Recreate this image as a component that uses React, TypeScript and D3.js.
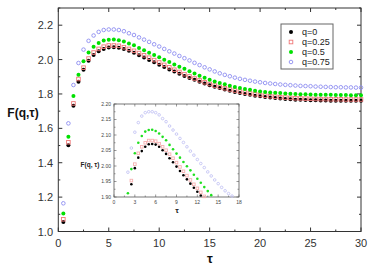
import React from "react";
import * as d3 from "d3";

const tau: number[] = Array.from({ length: 60 }, (_, i) => (i + 1) * 0.5);

const q0: number[] = [
  1.055, 1.501, 1.731, 1.871, 1.941, 1.993, 2.027, 2.048, 2.062, 2.07,
  2.071, 2.069, 2.062, 2.051, 2.039, 2.025, 2.012, 1.998, 1.984, 1.97,
  1.957, 1.943, 1.93, 1.917, 1.905, 1.893, 1.882, 1.871, 1.861, 1.851,
  1.842, 1.834, 1.826, 1.819, 1.812, 1.806, 1.8, 1.795, 1.79, 1.786,
  1.782, 1.779, 1.776, 1.773, 1.771, 1.769, 1.767, 1.766, 1.765, 1.764,
  1.763, 1.762, 1.762, 1.761, 1.761, 1.761, 1.76, 1.76, 1.76, 1.76,
];
const q025: number[] = [
  1.071, 1.519, 1.745, 1.887, 1.953, 2.006, 2.041, 2.062, 2.075, 2.082,
  2.082, 2.08, 2.072, 2.062, 2.051, 2.038, 2.025, 2.011, 1.997, 1.983,
  1.969, 1.955, 1.941, 1.928, 1.915, 1.902, 1.89, 1.879, 1.868, 1.858,
  1.849, 1.841, 1.833, 1.826, 1.82, 1.814, 1.808, 1.803, 1.798, 1.794,
  1.79, 1.787, 1.784, 1.781, 1.779, 1.777, 1.775, 1.774, 1.773, 1.772,
  1.771, 1.77, 1.77, 1.769, 1.769, 1.769, 1.768, 1.768, 1.768, 1.768,
];
const q05: number[] = [
  1.104, 1.551, 1.788, 1.912, 1.99, 2.041, 2.075, 2.097, 2.111, 2.116,
  2.117, 2.113, 2.105, 2.094, 2.083, 2.068, 2.054, 2.04, 2.027, 2.013,
  1.999, 1.986, 1.972, 1.959, 1.946, 1.932, 1.919, 1.906, 1.894, 1.883,
  1.873, 1.864, 1.856, 1.848, 1.841, 1.835, 1.829, 1.824, 1.819, 1.815,
  1.812, 1.809, 1.807, 1.805, 1.803, 1.801, 1.8, 1.799, 1.798, 1.797,
  1.796, 1.796, 1.795, 1.795, 1.794, 1.794, 1.794, 1.793, 1.793, 1.793,
];
const q075: number[] = [
  1.164, 1.629, 1.852, 1.98, 2.058, 2.109, 2.14, 2.161, 2.172, 2.175,
  2.175, 2.172, 2.165, 2.153, 2.143, 2.129, 2.116, 2.103, 2.089, 2.076,
  2.062, 2.048, 2.035, 2.021, 2.008, 1.995, 1.981, 1.968, 1.955, 1.943,
  1.931, 1.92, 1.911, 1.903, 1.895, 1.888, 1.882, 1.877, 1.872, 1.868,
  1.864, 1.861, 1.858, 1.855, 1.853, 1.851, 1.849, 1.847, 1.846, 1.845,
  1.843, 1.842, 1.841, 1.84, 1.839, 1.839, 1.838, 1.838, 1.837, 1.837,
];

const seriesNames: string[] = ["q=0", "q=0.25", "q=0.5", "q=0.75"];
const seriesValues: number[][] = [q0, q025, q05, q075];
const seriesColors: string[] = ["#000000", "#f07878", "#00e000", "#8c8cf0"];
const insetColors: string[] = ["#000000", "#f6b0b0", "#20e020", "#c4c4f4"];

const xTicks: number[] = [0, 5, 10, 15, 20, 25, 30];
const yTicks: number[] = [1.0, 1.2, 1.4, 1.6, 1.8, 2.0, 2.2];
const insetXTicks: number[] = [0, 3, 6, 9, 12, 15, 18];
const insetYTicks: number[] = [1.9, 1.95, 2.0, 2.05, 2.1, 2.15, 2.2];

const FONT = "Liberation Sans, Arial, sans-serif";

function Marker({ kind, x, y, color, s }: { kind: number; x: number; y: number; color: string; s: number }) {
  if (kind === 0) return <circle cx={x} cy={y} r={s} fill={color} />;
  if (kind === 1)
    return <rect x={x - s} y={y - s} width={2 * s} height={2 * s} fill="none" stroke={color} strokeWidth={0.9} />;
  if (kind === 2) return <circle cx={x} cy={y} r={s} fill={color} />;
  return <circle cx={x} cy={y} r={s} fill="none" stroke={color} strokeWidth={0.9} />;
}

export default function App() {
  const W = 379, H = 269;
  const x = d3.scaleLinear().domain([0, 30]).range([58.3, 361]);
  const y = d3.scaleLinear().domain([1.0, 2.3]).range([231.5, 8]);
  const [x0, x1] = x.range();
  const [yb, yt] = y.range();

  const xi = d3.scaleLinear().domain([0, 18]).range([114, 239]);
  const yi = d3.scaleLinear().domain([1.9, 2.2]).range([197, 104]);
  const [xi0, xi1] = xi.range();
  const [yib, yit] = yi.range();

  const xMinor = d3.range(0, 30.01, 2.5);
  const yMinor = d3.range(1.0, 2.301, 0.1);
  const xiMinor = d3.range(0, 18.01, 1.5);
  const yiMinor = d3.range(1.9, 2.201, 0.025);

  return (
    <svg width={W} height={H} style={{ position: "absolute", left: 0, top: 0, background: "#fff" }}>
      <rect width={W} height={H} fill="#fff" />
      {/* main frame */}
      <rect x={x0} y={yt} width={x1 - x0} height={yb - yt} fill="none" stroke="#333" strokeWidth={1} />
      {xMinor.map((t, i) => {
        const len = Math.abs(t % 5) < 1e-6 ? 4 : 2;
        return (
          <g key={"xm" + i} stroke="#333" strokeWidth={1}>
            <line x1={x(t)} x2={x(t)} y1={yb} y2={yb - len} />
            <line x1={x(t)} x2={x(t)} y1={yt} y2={yt + len} />
          </g>
        );
      })}
      {yMinor.map((v, i) => {
        const len = i % 2 === 0 ? 4 : 2;
        return (
          <g key={"ym" + i} stroke="#333" strokeWidth={1}>
            <line x1={x0} x2={x0 + len} y1={y(v)} y2={y(v)} />
            <line x1={x1} x2={x1 - len} y1={y(v)} y2={y(v)} />
          </g>
        );
      })}
      {xTicks.map((t) => (
        <text key={"xt" + t} x={x(t)} y={247} textAnchor="middle" fontFamily={FONT} fontSize={11} fill="#333">
          {t}
        </text>
      ))}
      {yTicks.map((v) => (
        <text key={"yt" + v} x={53} y={y(v) + 4} textAnchor="end" fontFamily={FONT} fontSize={11} fill="#333">
          {v.toFixed(1)}
        </text>
      ))}
      <text x={23} y={117} textAnchor="middle" fontFamily={FONT} fontSize={12} fontWeight="bold" fill="#111">
        F(q,τ)
      </text>
      <text x={210} y={263} textAnchor="middle" fontFamily={FONT} fontSize={13} fontWeight="bold" fill="#111">
        τ
      </text>

      {/* main data */}
      {seriesValues.map((vals, si) =>
        vals.map((v, i) => (
          <Marker key={"p" + si + "-" + i} kind={si} x={x(tau[i])} y={y(v)} color={seriesColors[si]} s={si === 1 || si === 3 ? 1.8 : 2} />
        ))
      )}

      {/* legend */}
      <rect x={281} y={24} width={52} height={45} fill="#fff" stroke="#666" strokeWidth={1} />
      {seriesNames.map((n, i) => (
        <g key={"lg" + i}>
          <Marker kind={i} x={291} y={32 + i * 10} color={seriesColors[i]} s={i === 1 || i === 3 ? 1.8 : 2} />
          <text x={302} y={35 + i * 10} fontFamily={FONT} fontSize={9} fill="#222">
            {n}
          </text>
        </g>
      ))}

      {/* inset */}
      <rect x={xi0} y={yit} width={xi1 - xi0} height={yib - yit} fill="#fff" stroke="#555" strokeWidth={0.8} />
      {xiMinor.map((t, i) => {
        const len = i % 2 === 0 ? 2.5 : 1.5;
        return (
          <g key={"xim" + i} stroke="#555" strokeWidth={0.6}>
            <line x1={xi(t)} x2={xi(t)} y1={yib} y2={yib - len} />
            <line x1={xi(t)} x2={xi(t)} y1={yit} y2={yit + len} />
          </g>
        );
      })}
      {yiMinor.map((v, i) => {
        const len = i % 2 === 0 ? 2.5 : 1.5;
        return (
          <g key={"yim" + i} stroke="#555" strokeWidth={0.6}>
            <line x1={xi0} x2={xi0 + len} y1={yi(v)} y2={yi(v)} />
            <line x1={xi1} x2={xi1 - len} y1={yi(v)} y2={yi(v)} />
          </g>
        );
      })}
      {insetXTicks.map((t) => (
        <text key={"xit" + t} x={xi(t)} y={204} textAnchor="middle" fontFamily={FONT} fontSize={5} fill="#444">
          {t}
        </text>
      ))}
      {insetYTicks.map((v) => (
        <text key={"yit" + v} x={111} y={yi(v) + 1.7} textAnchor="end" fontFamily={FONT} fontSize={5} fill="#444">
          {v.toFixed(2)}
        </text>
      ))}
      <text x={90} y={167} textAnchor="middle" fontFamily={FONT} fontSize={6.5} fontWeight="bold" fill="#222">
        F(q, τ)
      </text>
      <text x={177} y={213} textAnchor="middle" fontFamily={FONT} fontSize={8} fontWeight="bold" fill="#222">
        τ
      </text>
      {seriesValues.map((vals, si) =>
        vals.map((v, i) =>
          tau[i] <= 18 && v >= 1.9 && v <= 2.2 ? (
            <Marker key={"ip" + si + "-" + i} kind={si} x={xi(tau[i])} y={yi(v)} color={insetColors[si]} s={1.3} />
          ) : null
        )
      )}
    </svg>
  );
}
